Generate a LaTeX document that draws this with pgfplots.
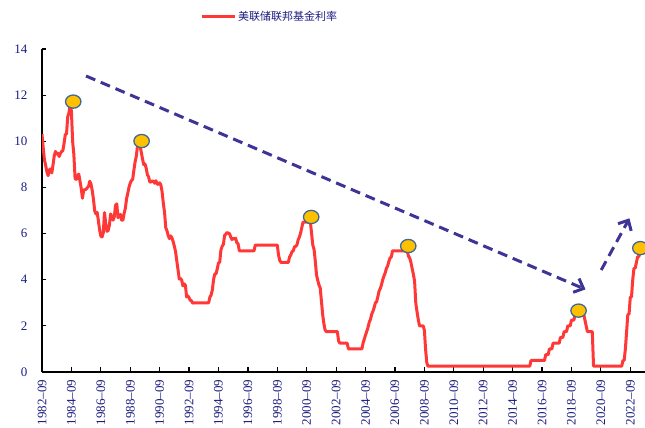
\documentclass[border=0pt]{standalone}
\usepackage{fontspec}
\setmainfont{Liberation Serif}
\newfontfamily\cjk{Noto Sans CJK SC}
\usepackage{pgfplots}
\usepackage{pgfplotstable}
\pgfplotsset{compat=1.18}
\usetikzlibrary{arrows.meta}
\definecolor{fedred}{RGB}{255,55,55}
\definecolor{arrowblue}{RGB}{62,52,150}
\definecolor{labelblue}{RGB}{28,28,130}
\definecolor{markfill}{RGB}{255,192,0}
\definecolor{markedge}{RGB}{65,105,150}
\pgfplotstableread{
x y
1982.667 10.31
1982.750 9.71
1982.833 9.20
1982.917 8.95
1983.000 8.68
1983.083 8.51
1983.167 8.77
1983.250 8.80
1983.333 8.63
1983.417 8.98
1983.500 9.37
1983.583 9.56
1983.667 9.45
1983.750 9.48
1983.833 9.34
1983.917 9.47
1984.000 9.56
1984.083 9.59
1984.167 9.91
1984.250 10.29
1984.333 10.32
1984.417 11.06
1984.500 11.23
1984.583 11.64
1984.667 11.30
1984.750 9.99
1984.833 9.43
1984.917 8.38
1985.000 8.35
1985.083 8.50
1985.167 8.58
1985.250 8.27
1985.333 7.97
1985.417 7.53
1985.500 7.88
1985.583 7.90
1985.667 7.92
1985.750 7.99
1985.833 8.05
1985.917 8.27
1986.000 8.14
1986.083 7.86
1986.167 7.48
1986.250 6.99
1986.333 6.85
1986.417 6.92
1986.500 6.56
1986.583 6.17
1986.667 5.89
1986.750 5.85
1986.833 6.04
1986.917 6.91
1987.000 6.43
1987.083 6.10
1987.167 6.13
1987.250 6.37
1987.333 6.85
1987.417 6.73
1987.500 6.58
1987.583 6.73
1987.667 7.22
1987.750 7.29
1987.833 6.69
1987.917 6.77
1988.000 6.83
1988.083 6.58
1988.167 6.58
1988.250 6.87
1988.333 7.09
1988.417 7.51
1988.500 7.75
1988.583 8.01
1988.667 8.19
1988.750 8.30
1988.833 8.35
1988.917 8.76
1989.000 9.12
1989.083 9.36
1989.167 9.85
1989.250 9.84
1989.333 9.81
1989.417 9.53
1989.500 9.24
1989.583 8.99
1989.667 9.02
1989.750 8.84
1989.833 8.55
1989.917 8.45
1990.000 8.23
1990.083 8.24
1990.167 8.28
1990.250 8.26
1990.333 8.18
1990.417 8.29
1990.500 8.15
1990.583 8.13
1990.667 8.20
1990.750 8.11
1990.833 7.81
1990.917 7.31
1991.000 6.91
1991.083 6.25
1991.167 6.12
1991.250 5.91
1991.333 5.78
1991.417 5.90
1991.500 5.82
1991.583 5.66
1991.667 5.45
1991.750 5.21
1991.833 4.81
1991.917 4.43
1992.000 4.03
1992.083 4.06
1992.167 3.98
1992.250 3.73
1992.333 3.82
1992.417 3.76
1992.500 3.25
1992.583 3.30
1992.667 3.22
1992.750 3.10
1992.833 3.09
1992.917 2.98
1993.000 3.00
1993.500 3.00
1994.000 3.00
1994.083 3.25
1994.167 3.34
1994.250 3.56
1994.333 4.01
1994.417 4.25
1994.500 4.26
1994.583 4.47
1994.667 4.73
1994.750 4.76
1994.833 5.29
1994.917 5.45
1995.000 5.53
1995.083 5.92
1995.167 5.98
1995.250 6.05
1995.333 6.01
1995.417 6.00
1995.500 5.85
1995.583 5.74
1995.667 5.80
1995.750 5.76
1995.833 5.80
1995.917 5.60
1996.000 5.56
1996.083 5.25
1997.083 5.25
1997.167 5.50
1998.667 5.50
1998.750 5.07
1998.833 4.83
1998.917 4.75
1999.417 4.75
1999.500 4.99
1999.583 5.07
1999.667 5.22
1999.750 5.25
1999.833 5.42
1999.917 5.45
2000.000 5.50
2000.083 5.73
2000.167 5.85
2000.250 6.02
2000.333 6.27
2000.417 6.50
2000.917 6.50
2001.000 5.98
2001.083 5.49
2001.167 5.31
2001.250 4.80
2001.333 4.21
2001.417 3.97
2001.500 3.77
2001.583 3.65
2001.667 3.07
2001.750 2.49
2001.833 2.09
2001.917 1.82
2002.000 1.75
2002.750 1.75
2002.833 1.34
2002.917 1.25
2003.417 1.25
2003.500 1.00
2004.417 1.00
2004.500 1.26
2004.583 1.43
2004.667 1.61
2004.750 1.76
2004.833 1.93
2004.917 2.16
2005.000 2.28
2005.083 2.50
2005.167 2.63
2005.250 2.79
2005.333 3.00
2005.417 3.04
2005.500 3.26
2005.583 3.50
2005.667 3.62
2005.750 3.78
2005.833 4.00
2005.917 4.16
2006.000 4.29
2006.083 4.49
2006.167 4.59
2006.250 4.79
2006.333 4.94
2006.417 4.99
2006.500 5.25
2007.500 5.25
2007.583 5.02
2007.667 4.94
2007.750 4.76
2007.833 4.49
2007.917 4.24
2008.000 3.94
2008.083 2.98
2008.167 2.61
2008.250 2.28
2008.333 2.00
2008.583 2.00
2008.667 1.81
2008.750 0.97
2008.833 0.39
2008.917 0.25
2015.833 0.25
2015.917 0.50
2016.833 0.50
2016.917 0.75
2017.083 0.75
2017.167 1.00
2017.333 1.00
2017.417 1.25
2017.833 1.25
2017.917 1.50
2018.083 1.50
2018.167 1.75
2018.333 1.75
2018.417 2.00
2018.583 2.00
2018.667 2.25
2018.833 2.25
2018.917 2.50
2019.500 2.50
2019.583 2.25
2019.667 2.00
2019.750 1.75
2020.083 1.75
2020.167 0.25
2022.083 0.25
2022.167 0.50
2022.250 0.50
2022.333 1.00
2022.417 1.75
2022.500 2.50
2022.583 2.50
2022.667 3.25
2022.750 3.25
2022.833 4.00
2022.917 4.50
2023.000 4.50
2023.083 4.75
2023.167 5.00
2023.250 5.00
2023.333 5.25
2023.417 5.25
2023.500 5.50
2023.667 5.50
}\fedfunds
\begin{document}
\begin{tikzpicture}
\begin{axis}[
  scale only axis, width=603pt, height=323pt,
  xmin=1982.667, xmax=2023.667, ymin=0, ymax=14,
  axis x line=bottom, axis y line=left,
  axis line style={-, line width=1.3pt, black},
  tick align=inside, major tick length=4.5pt,
  tick style={line width=1.2pt, black},
  ytick={0,2,4,6,8,10,12,14},
  xtick={1982.667,1984.667,1986.667,1988.667,1990.667,1992.667,1994.667,1996.667,1998.667,2000.667,2002.667,2004.667,2006.667,2008.667,2010.667,2012.667,2014.667,2016.667,2018.667,2020.667,2022.667},
  xticklabels={1982--09,1984--09,1986--09,1988--09,1990--09,1992--09,1994--09,1996--09,1998--09,2000--09,2002--09,2004--09,2006--09,2008--09,2010--09,2012--09,2014--09,2016--09,2018--09,2020--09,2022--09},
  /pgf/number format/assume math mode=true,
  x tick label style={rotate=90, anchor=east, font=\fontsize{13}{13}\selectfont, text=labelblue, inner xsep=7.5pt},
  y tick label style={font=\fontsize{13}{13}\selectfont, text=labelblue, xshift=-11pt},
  legend style={at={(0.262,1)}, anchor=west, yshift=32pt, draw=none, fill=none,
    font=\cjk\fontsize{11}{11}\selectfont, text=labelblue, inner sep=0pt},
  legend image code/.code={\draw[#1, line width=3pt] (0pt,0pt) -- (33pt,0pt);},
]
\addplot[fedred, line width=3pt, line join=round] table[x=x, y=y] {\fedfunds};
\addlegendentry{美联储联邦基金利率}
\addplot[arrowblue, line width=3pt, dash pattern=on 10pt off 6pt, -{Straight Barb[length=8pt, width=15pt, line width=3pt]}, forget plot]
  coordinates {(1985.66,12.83) (2019.62,3.58)};
\addplot[arrowblue, line width=3pt, dash pattern=on 10pt off 6pt, -{Straight Barb[length=8pt, width=15pt, line width=3pt]}, forget plot]
  coordinates {(2020.69,4.42) (2022.61,6.66)};
\addplot[only marks, mark=*, mark size=6.6pt, mark options={xscale=1.17, fill=markfill, draw=markedge, line width=1.3pt}, forget plot]
  coordinates {(1984.79,11.72) (1989.44,10.01) (2000.97,6.72) (2007.57,5.46) (2019.15,2.66) (2023.35,5.37)};
\end{axis}
\pgfresetboundingbox
\path (-42pt,-56pt) rectangle (603pt,372pt);
\end{tikzpicture}
\end{document}
